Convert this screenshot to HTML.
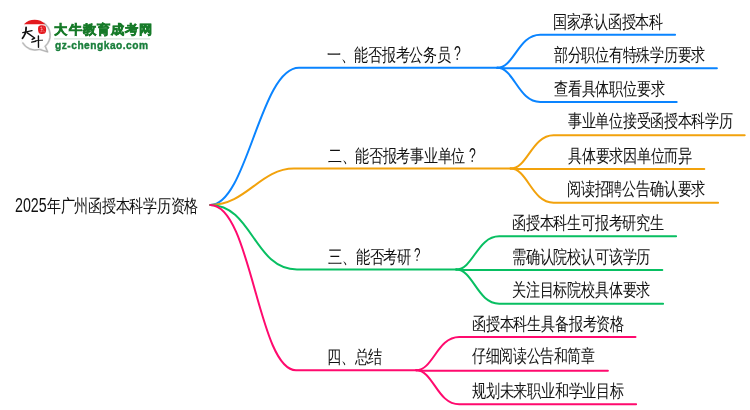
<!DOCTYPE html>
<html><head><meta charset="utf-8"><style>
html,body{margin:0;padding:0;background:#fff;width:750px;height:410px;overflow:hidden;position:relative}
.t{position:absolute;font-family:"Liberation Sans",sans-serif;font-size:17.0px;line-height:17.0px;white-space:nowrap;color:#111;transform-origin:0 0}
svg{position:absolute;left:0;top:0}
</style></head><body>
<svg width="750" height="410" viewBox="0 0 750 410" fill="none" stroke-width="2" stroke-linecap="round">
<path d="M210.3,205 C247.3,205 260,67.8 299,67.8 L497.2,67.8" stroke="#0a84ff"/>
<path d="M497.2,67.8 C514.2,67.8 518.2,34.65 540.2,34.65 L675.1,34.65" stroke="#0a84ff"/>
<path d="M497.2,67.8 L505.2,68.3 L716.9,68.3" stroke="#0a84ff"/>
<path d="M497.2,67.8 C514.2,67.8 518.2,101.94999999999999 540.2,101.94999999999999 L676.7,101.94999999999999" stroke="#0a84ff"/>
<path d="M210.3,205 C246.3,205 260,168.6 294,168.6 L510.6,168.6" stroke="#f2a20c"/>
<path d="M510.6,168.6 C527.6,168.6 531.6,135.35 553.6,135.35 L744.7,135.35" stroke="#f2a20c"/>
<path d="M510.6,168.6 L518.6,169.0 L704.3000000000001,169.0" stroke="#f2a20c"/>
<path d="M510.6,168.6 C527.6,168.6 531.6,202.65 553.6,202.65 L718.1,202.65" stroke="#f2a20c"/>
<path d="M210.3,205 C252.3,205 254,269.5 297,269.5 L456.2,269.5" stroke="#08bf62"/>
<path d="M456.2,269.5 C473.2,269.5 477.2,236.35 499.2,236.35 L676.1,236.35" stroke="#08bf62"/>
<path d="M456.2,269.5 L464.2,270.0 L662.3000000000001,270.0" stroke="#08bf62"/>
<path d="M456.2,269.5 C473.2,269.5 477.2,303.65 499.2,303.65 L663.1,303.65" stroke="#08bf62"/>
<path d="M210.3,205 C251.3,205 258,370.2 296,370.2 L416.2,370.2" stroke="#ff0a6e"/>
<path d="M416.2,370.2 C433.2,370.2 437.2,337.05 459.2,337.05 L635.5,337.05" stroke="#ff0a6e"/>
<path d="M416.2,370.2 L424.2,370.7 L607.9,370.7" stroke="#ff0a6e"/>
<path d="M416.2,370.2 C433.2,370.2 437.2,404.34999999999997 459.2,404.34999999999997 L636.1,404.34999999999997" stroke="#ff0a6e"/>
</svg>
<svg width="160" height="60" viewBox="0 0 160 60" style="position:absolute;left:0;top:0">
<defs><filter id="sh" x="-20%" y="-20%" width="140%" height="140%"><feGaussianBlur stdDeviation="0.6"/></filter></defs>
<circle cx="35.3" cy="35.2" r="14.8" fill="#fff" stroke="#f2f2f2" stroke-width="0.8"/>
<path d="M22.5,42.6 A14.8,14.8 0 0 0 39.6,49.4 L47.6,51.9 L45.2,46.2 A14.8,14.8 0 0 0 43.5,22.8" fill="none" stroke="#d6d6d6" stroke-width="2" stroke-linejoin="round" filter="url(#sh)"/>
<path d="M22.5,42.6 A14.8,14.8 0 0 0 39.6,49.4 L47.6,51.9 L45.2,46.2 A14.8,14.8 0 0 0 43.5,22.8" fill="none" stroke="#a8a8a8" stroke-width="0.8" stroke-linejoin="round"/>
<path d="M23.9,24.3 A15,15 0 0 1 45.3,24.3 Z" fill="#e3191e"/>
<path d="M38.4,26.6 C39.5,24.9 43.5,24.7 45.3,26 C46.5,27.8 46.4,31.6 45.3,33.1 C43.8,34.3 40.2,34.2 38.9,33 C37.9,31.4 37.8,28.4 38.4,26.6 Z" fill="#e4161c"/>
<g stroke="#fff" stroke-width="0.5" fill="none" opacity="0.75"><path d="M40.2,27.6 L41.8,27.2 M40.6,29.6 L43.2,29.2 M41.6,26.6 L41.8,31.2 M43.6,30.6 L44.3,32.2 M40.3,31.8 L42.4,31.6 M43.4,27 L44.6,28.2"/></g>
<g stroke="#111" fill="none" stroke-linecap="round" stroke-linejoin="round">
<path d="M22.8,32.6 Q27.5,31.6 32,30.6" stroke-width="1.4"/>
<path d="M26.1,27.4 Q26.2,31.5 25,34 Q24,36.3 22.5,38.2" stroke-width="1.8"/>
<path d="M27,32.6 L34.6,38 L32.2,39.4" stroke-width="1.5"/>
<path d="M31.7,42.1 L35.8,41.3" stroke-width="1.4"/>
<path d="M35.8,40.6 L42.6,40.2" stroke-width="1" stroke="#333"/>
<path d="M38.4,36 L38.5,47.2" stroke-width="1.4"/>
</g>
<line x1="54" y1="38.9" x2="150" y2="38.9" stroke="#d5e3d8" stroke-width="1.4"/>
</svg>
<div style="position:absolute;left:54.4px;top:23.4px;font-family:'Liberation Sans',sans-serif;font-weight:bold;font-size:13.6px;line-height:13.6px;color:#167a28;white-space:nowrap;-webkit-text-stroke:0.6px #167a28;letter-spacing:0.15px;transform:scale(1,0.98);transform-origin:0 0">大牛教育成考网</div>
<div style="position:absolute;left:55px;top:38.6px;font-family:'Liberation Sans',sans-serif;font-weight:bold;font-size:10.2px;line-height:11px;color:#1a7f3c;white-space:nowrap;letter-spacing:0.5px;-webkit-text-stroke:0.35px #1a7f3c;transform:scaleY(1.1);transform-origin:0 0">gz-chengkao.com</div>

<div class="t" style="left:47.36px;top:198.28px;transform:scale(0.8087,1.03)">年广州函授本科学历资格</div>
<div class="t" style="left:327.31px;top:46.93px;transform:scale(0.8061,1.03)">一、能否报考公务员</div>
<div class="t" style="left:328.16px;top:148.18px;transform:scale(0.8058,1.03)">二、能否报考事业单位</div>
<div class="t" style="left:328.05px;top:249.15px;transform:scale(0.8161,1.03)">三、能否考研</div>
<div class="t" style="left:327.08px;top:348.94px;transform:scale(0.8098,1.03)">四、总结</div>
<div class="t" style="left:552.77px;top:13.64px;transform:scale(0.8086,1.03)">国家承认函授本科</div>
<div class="t" style="left:553.80px;top:47.33px;transform:scale(0.8085,1.03)">部分职位有特殊学历要求</div>
<div class="t" style="left:554.05px;top:81.13px;transform:scale(0.8120,1.03)">查看具体职位要求</div>
<div class="t" style="left:567.66px;top:113.23px;transform:scale(0.8068,1.03)">事业单位接受函授本科学历</div>
<div class="t" style="left:568.46px;top:147.83px;transform:scale(0.8097,1.03)">具体要求因单位而异</div>
<div class="t" style="left:567.46px;top:180.58px;transform:scale(0.8131,1.03)">阅读招聘公告确认要求</div>
<div class="t" style="left:512.21px;top:214.58px;transform:scale(0.8114,1.03)">函授本科生可报考研究生</div>
<div class="t" style="left:511.86px;top:248.70px;transform:scale(0.8128,1.03)">需确认院校认可该学历</div>
<div class="t" style="left:512.41px;top:282.08px;transform:scale(0.8128,1.03)">关注目标院校具体要求</div>
<div class="t" style="left:471.71px;top:315.53px;transform:scale(0.8133,1.03)">函授本科生具备报考资格</div>
<div class="t" style="left:471.80px;top:348.48px;transform:scale(0.8022,1.03)">仔细阅读公告和简章</div>
<div class="t" style="left:472.05px;top:382.68px;transform:scale(0.8122,1.03)">规划未来职业和学业目标</div>
<div class="t" style="left:14.99px;top:195.00px;font-size:20px;line-height:20px;transform:scaleX(0.7129)">2025</div>
<div class="t" style="left:454.39px;top:44.41px;font-size:19.29px;line-height:19.29px;transform:scaleX(0.6331)">?</div>
<div class="t" style="left:468.69px;top:144.66px;font-size:20.29px;line-height:20.29px;transform:scaleX(0.6019)">?</div>
<div class="t" style="left:414.02px;top:245.99px;font-size:18.71px;line-height:18.71px;transform:scaleX(0.6187)">?</div>
</body></html>
